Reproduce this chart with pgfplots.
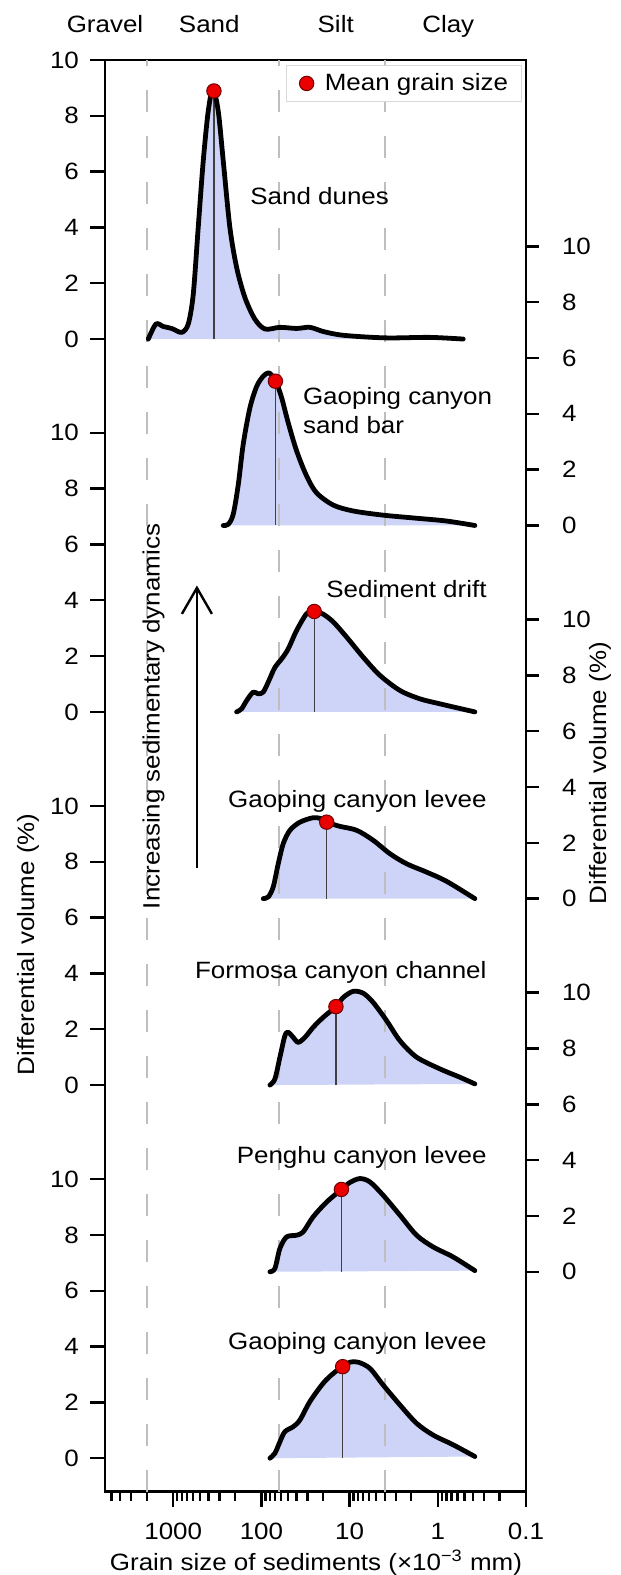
\documentclass[border=0pt]{standalone}
\usepackage{fontspec}
\setmainfont[FakeStretch=1.1]{Liberation Sans}
\usepackage{pgfplots}
\pgfplotsset{compat=1.18}
\usepackage{pgfplotstable}
\usetikzlibrary{arrows.meta}
\definecolor{fillc}{RGB}{205,212,248}
\definecolor{mred}{RGB}{235,0,0}
\definecolor{dashc}{RGB}{190,190,190}

% Sand dunes
\pgfplotstableread{
x v
1919 0
1570 0.54
1298 0.45
1042 0.38
803 0.24
676 0.54
593 1.61
521 4.0
457 6.38
401 8.17
355 8.95
309 8.17
271 6.38
228 4.0
191 2.56
154 1.49
119 0.72
91.2 0.36
61.7 0.42
39.9 0.38
28.2 0.42
19.9 0.27
12.9 0.15
7.0 0.08
3.49 0.04
1.23 0.06
0.515 0
}\cA
% Gaoping canyon sand bar
\pgfplotstableread{
x v
271 0
238 0.04
209 0.40
183 1.47
161 2.91
135 4.22
113 4.99
95.4 5.35
83.7 5.47
76.6 5.39
68.5 5.17
59.0 4.58
49.7 3.68
39.9 2.67
30.7 1.77
23.7 1.17
15.3 0.73
9.10 0.52
4.16 0.37
1.74 0.26
0.795 0.16
0.380 0
}\cB
% Sediment drift
\pgfplotstableread{
x v
191 0
168 0.11
147 0.41
124 0.71
109 0.65
95.4 0.71
83.7 1.07
70.3 1.60
59.0 1.90
49.7 2.26
39.9 2.92
30.7 3.52
25.2 3.60
19.9 3.50
15.3 3.22
10.8 2.68
7.01 1.96
4.53 1.31
2.69 0.77
1.60 0.47
0.947 0.29
0.380 0
}\cC
% Gaoping canyon levee (upper)
\pgfplotstableread{
x v
95.4 0
83.7 0.06
73.5 0.42
64.5 1.25
56.6 1.97
47.5 2.45
36.6 2.74
25.9 2.90
20.8 2.86
18.2 2.74
12.9 2.59
8.33 2.45
5.40 2.09
3.49 1.61
2.26 1.25
1.34 0.95
0.795 0.62
0.380 0
}\cD
% Formosa canyon channel
\pgfplotstableread{
x v
80.1 0
70.3 0.22
61.7 1.0
54.2 1.77
49.7 1.89
43.6 1.71
38.3 1.53
32.1 1.71
25.9 2.07
19.9 2.43
14.3 2.81
11.8 3.14
9.10 3.36
7.01 3.29
5.40 2.96
3.81 2.31
2.69 1.59
1.74 1.00
0.947 0.58
0.561 0.28
0.380 0.04
}\cE
% Penghu canyon levee
\pgfplotstableread{
x v
80.1 0
70.3 0.12
61.7 0.84
51.8 1.25
39.9 1.31
33.6 1.43
25.9 1.97
18.2 2.50
12.39 2.95
9.93 3.20
7.64 3.34
5.89 3.22
4.16 2.74
2.69 2.03
1.74 1.31
1.13 0.89
0.669 0.53
0.380 0.04
}\cF
% Gaoping canyon levee (lower)
\pgfplotstableread{
x v
80.1 0
70.3 0.18
61.7 0.59
54.2 0.95
43.6 1.13
36.6 1.37
28.2 2.03
19.9 2.69
15.3 3.04
12.0 3.28
9.93 3.44
7.98 3.44
5.89 3.22
4.16 2.62
2.69 1.91
1.74 1.25
1.13 0.83
0.669 0.48
0.380 0.06
}\cG

\pgfplotsset{
  fillst/.style={fill=fillc, draw=none, smooth, forget plot},
  curvest/.style={black, line width=2.4pt, smooth, line cap=round, line join=round, forget plot},
  meanst/.style={black!75, line width=0.6pt, forget plot},
  dashst/.style={dashc, line width=0.9pt, dash pattern=on 11pt off 12pt, forget plot},
}

\begin{document}
\begin{tikzpicture}[font=\fontsize{11.8}{14}\selectfont]
\begin{axis}[
  scale only axis, width=210.5pt, height=715.85pt,
  xmode=log, x dir=reverse, xmin=0.1, xmax=5943,
  ymin=-1.2, ymax=50.1,
  clip=false,
  axis line style={line width=1.3pt},
  tick style={line width=1.2pt, black},
  tick align=outside,
  /pgf/number format/assume math mode=true,
  tick label style={font=\fontsize{11.8}{14}\selectfont},
  xticklabel style={yshift=-4.5pt},
  yticklabel style={xshift=-2pt},
  major tick length=7.5pt, minor tick length=4.5pt,
  xtick={0.1,1,10,100,1000}, xticklabels={0.1,1,10,100,1000},
  minor xtick={0.2,0.3,0.4,0.5,0.6,0.7,0.8,0.9,2,3,4,5,6,7,8,9,20,30,40,50,60,70,80,90,200,300,400,500,600,700,800,900,2000,3000,4000,5000},
  xtick pos=bottom, ytick pos=left,
  ytick={0,2,4,6,8,10,13.37,15.37,17.37,19.37,21.37,23.37,26.74,28.74,30.74,32.74,34.74,36.74,40.1,42.1,44.1,46.1,48.1,50.1},
  yticklabels={0,2,4,6,8,10,0,2,4,6,8,10,0,2,4,6,8,10,0,2,4,6,8,10},
  legend style={at={(axis description cs:0.9898,0.9965)}, anchor=north east,
    draw=black!15, line width=0.6pt, inner xsep=6.5pt, inner ysep=3.9pt,
    nodes={inner xsep=0pt, inner ysep=0pt},
    /tikz/every odd column/.append style={column sep=5.5pt},
    font=\fontsize{11.8}{14}\selectfont},
  legend image code/.code={\draw[#1] plot coordinates {(0pt,0pt)};},
]
% fills
\addplot[fillst] table[x=x, y expr=\thisrow{v}+40.1] {\cA} -- cycle;
\addplot[fillst] table[x=x, y expr=\thisrow{v}+33.42] {\cB} -- cycle;
\addplot[fillst] table[x=x, y expr=\thisrow{v}+26.74] {\cC} -- cycle;
\addplot[fillst] table[x=x, y expr=\thisrow{v}+20.05] {\cD} -- cycle;
\addplot[fillst] table[x=x, y expr=\thisrow{v}+13.37] {\cE} -- cycle;
\addplot[fillst] table[x=x, y expr=\thisrow{v}+6.68] {\cF} -- cycle;
\addplot[fillst] table[x=x, y expr=\thisrow{v}] {\cG} -- cycle;
% class boundaries
\addplot[dashst] coordinates {(2000,-1.2) (2000,50.1)};
\addplot[dashst] coordinates {(63,-1.2) (63,50.1)};
\addplot[dashst] coordinates {(4,-1.2) (4,50.1)};
% mean lines
\addplot[meanst] coordinates {(345.6,40.1) (345.6,48.99)};
\addplot[meanst] coordinates {(69.4,33.42) (69.4,38.59)};
\addplot[meanst] coordinates {(25.2,26.74) (25.2,30.34)};
\addplot[meanst] coordinates {(18.2,20.05) (18.2,22.79)};
\addplot[meanst] coordinates {(14.3,13.37) (14.3,16.18)};
\addplot[meanst] coordinates {(12.39,6.68) (12.39,9.63)};
\addplot[meanst] coordinates {(12.0,0) (12.0,3.28)};
% curves
\addplot[curvest] table[x=x, y expr=\thisrow{v}+40.1] {\cA};
\addplot[curvest] table[x=x, y expr=\thisrow{v}+33.42] {\cB};
\addplot[curvest] table[x=x, y expr=\thisrow{v}+26.74] {\cC};
\addplot[curvest] table[x=x, y expr=\thisrow{v}+20.05] {\cD};
\addplot[curvest] table[x=x, y expr=\thisrow{v}+13.37] {\cE};
\addplot[curvest] table[x=x, y expr=\thisrow{v}+6.68] {\cF};
\addplot[curvest] table[x=x, y expr=\thisrow{v}] {\cG};
% mean markers
\addplot[only marks, mark=*, mark size=3.6pt, mark options={fill=mred, draw=black!55!red, line width=0.5pt}]
  coordinates {(345.6,48.99) (69.4,38.59) (25.2,30.34) (18.2,22.79) (14.3,16.18) (12.39,9.63) (12.0,3.28)};
\addlegendentry{Mean grain size}
% labels
\node[anchor=base] at (axis cs:5943,51.08) {Gravel};
\node[anchor=base] at (axis cs:390.6,51.08) {Sand};
\node[anchor=base] at (axis cs:14.38,51.08) {Silt};
\node[anchor=base] at (axis cs:0.762,51.08) {Clay};
\node[anchor=base west, inner sep=0pt] at (axis cs:135,44.93) {Sand dunes};
\node[anchor=base west, inner sep=0pt] at (axis cs:34.1,37.77) {Gaoping canyon};
\node[anchor=base west, inner sep=0pt] at (axis cs:34.1,36.70) {sand bar};
\node[anchor=base east, inner sep=0pt] at (axis cs:0.2775,30.85) {Sediment drift};
\node[anchor=base east, inner sep=0pt] at (axis cs:0.2775,23.31) {Gaoping canyon levee};
\node[anchor=base east, inner sep=0pt] at (axis cs:0.2775,17.19) {Formosa canyon channel};
\node[anchor=base east, inner sep=0pt] at (axis cs:0.2775,10.56) {Penghu canyon levee};
\node[anchor=base east, inner sep=0pt] at (axis cs:0.2775,3.88) {Gaoping canyon levee};
\node[rotate=90, inner sep=0pt] at (axis cs:1677,26.58) {Increasing sedimentary dynamics};
\draw[line width=1.2pt, -{Straight Barb[length=13pt, width=15pt, line width=1.2pt]}] (axis cs:539,21.14) -- (axis cs:539,31.27);
\node[rotate=90, inner sep=0pt] at (axis cs:44380,18.41) {Differential volume (\%)};
\node[rotate=90, inner sep=0pt] at (axis cs:0.0145,24.55) {Differential volume (\%)};
\node[anchor=base, inner sep=0pt] at (axis cs:24.1,-4.02) {Grain size of sediments (×10\textsuperscript{−3} mm)};
\coordinate (sw) at (axis description cs:0,0);
\coordinate (ne) at (axis description cs:1,1);
\end{axis}
\begin{axis}[
  scale only axis, width=210.5pt, height=715.85pt,
  xmode=log, x dir=reverse, xmin=0.1, xmax=5943,
  ymin=-1.2, ymax=50.1,
  axis x line=none, axis y line*=right,
  axis line style={line width=1.3pt},
  y axis line style={-},
  tick style={line width=1.2pt, black},
  tick align=outside,
  /pgf/number format/assume math mode=true,
  tick label style={font=\fontsize{11.8}{14}\selectfont},
  yticklabel style={xshift=8pt},
  major tick length=6.5pt,
  ytick={6.68,8.68,10.68,12.68,14.68,16.68,20.05,22.05,24.05,26.05,28.05,30.05,33.42,35.42,37.42,39.42,41.42,43.42},
  yticklabels={0,2,4,6,8,10,0,2,4,6,8,10,0,2,4,6,8,10},
]
\addplot[draw=none, forget plot] coordinates {(1,0)};
\end{axis}
\pgfresetboundingbox
\path ([shift={(-52.5pt,-41.65pt)}]sw) rectangle ([shift={(47.5pt,30pt)}]ne);
\end{tikzpicture}
\end{document}
